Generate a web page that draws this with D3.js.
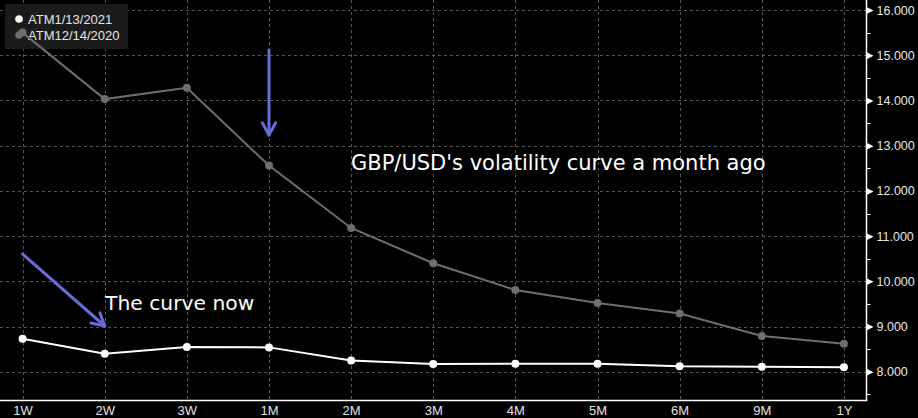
<!DOCTYPE html>
<html>
<head>
<meta charset="utf-8">
<script src="https://cdn.jsdelivr.net/npm/d3@7"></script>
<style>
  html, body { margin: 0; padding: 0; background: #000; }
  svg { display: block; }
</style>
</head>
<body>
<svg id="chart" width="918" height="418"></svg>
<script>
// ---- data ----
const tenors = ["1W","2W","3W","1M","2M","3M","4M","5M","6M","9M","1Y"];
const atmNow = [8.73, 8.40, 8.55, 8.54, 8.25, 8.17, 8.18, 8.18, 8.12, 8.11, 8.10];
const atmMonthAgo = [15.50, 14.03, 14.28, 12.56, 11.18, 10.40, 9.81, 9.52, 9.29, 8.79, 8.62];
const seriesNames = ["ATM1/13/2021", "ATM12/14/2020"];
const yTicks = [8, 9, 10, 11, 12, 13, 14, 15, 16];
const yMinorTicks = [7.5, 8.5, 9.5, 10.5, 11.5, 12.5, 13.5, 14.5, 15.5];
const annotations = ["GBP/USD's volatility curve a month ago", "The curve now"];

// ---- layout ----
const W = 918, H = 418;
const plotRight = 866.5, plotBottom = 400.5;
const svg = d3.select("#chart");
svg.append("rect").attr("width", W).attr("height", H).attr("fill", "#000");

const x = d3.scalePoint().domain(tenors).range([0, plotRight]).padding(0.275);
const y = d3.scaleLinear().domain([8, 16]).range([371.8, 10]);

// grid
const grid = svg.append("g").attr("stroke", "#555").attr("stroke-width", 1)
  .attr("stroke-dasharray", "3,3");
grid.selectAll("line.v").data(tenors).join("line")
  .attr("x1", d => Math.round(x(d)) + 0.5).attr("x2", d => Math.round(x(d)) + 0.5)
  .attr("y1", 0).attr("y2", plotBottom);
grid.selectAll("line.h").data(yTicks).join("line")
  .attr("x1", 0).attr("x2", plotRight)
  .attr("y1", d => Math.round(y(d)) + 0.5).attr("y2", d => Math.round(y(d)) + 0.5);

// y axis (right)
const yAxis = d3.axisRight(y).tickValues(yTicks).tickSize(0).tickPadding(10)
  .tickFormat(d3.format(".3f"));
const ya = svg.append("g").attr("transform", `translate(${plotRight},0)`).call(yAxis);
ya.select(".domain").remove();
ya.selectAll("text").attr("fill", "#e6e6e6")
  .style("font-family", "'Liberation Sans', Arial, sans-serif").style("font-size", "12.5px");
// major tick markers (triangles)
ya.selectAll(".tick").append("path")
  .attr("d", "M0,-3.5 L7,0 L0,3.5 Z").attr("fill", "#fff");
// minor ticks
svg.append("g").selectAll("line").data(yMinorTicks).join("line")
  .attr("x1", plotRight).attr("x2", plotRight + 4)
  .attr("y1", d => Math.round(y(d)) + 0.5).attr("y2", d => Math.round(y(d)) + 0.5)
  .attr("stroke", "#fff").attr("stroke-width", 1);
// axis lines
svg.append("line").attr("x1", plotRight).attr("x2", plotRight).attr("y1", 0).attr("y2", plotBottom)
  .attr("stroke", "#fff").attr("stroke-width", 1.5);

// x axis
const xAxis = d3.axisBottom(x).tickSize(0).tickPadding(5);
const xa = svg.append("g").attr("transform", `translate(0,${plotBottom})`).call(xAxis);
xa.select(".domain").remove();
xa.selectAll("text").attr("fill", "#e0e0e0")
  .style("font-family", "'Liberation Sans Narrow', 'Liberation Sans', sans-serif").style("font-size", "13px");
svg.append("line").attr("x1", 0).attr("x2", plotRight + 0.75).attr("y1", plotBottom).attr("y2", plotBottom)
  .attr("stroke", "#fff").attr("stroke-width", 1.5);

// legend box (behind series)
const legendBox = svg.append("rect").attr("x", 5).attr("y", 4).attr("width", 123).attr("height", 45).attr("fill", "#1b1b1b");

// series
const line = d3.line().x((d, i) => x(tenors[i])).y(d => y(d));
const series = [
  { name: seriesNames[1], values: atmMonthAgo, color: "#6e6e6e" },
  { name: seriesNames[0], values: atmNow, color: "#ffffff" }
];
const legend = svg.append("g");
const legendItems = [
  { name: seriesNames[0], color: "#ffffff" },
  { name: seriesNames[1], color: "#6e6e6e" }
];
legendItems.forEach((it, i) => {
  legend.append("circle").attr("cx", 19).attr("cy", 19 + i * 16).attr("r", 3.8).attr("fill", it.color);
  legend.append("text").attr("x", 28).attr("y", 24 + i * 16).text(it.name)
    .attr("fill", "#e6e6e6").style("font-family", "'Liberation Sans', Arial, sans-serif").style("font-size", "13px");
});
series.forEach(s => {
  svg.append("path").datum(s.values).attr("d", line)
    .attr("fill", "none").attr("stroke", s.color).attr("stroke-width", 2);
  svg.append("g").selectAll("circle").data(s.values).join("circle")
    .attr("cx", (d, i) => x(tenors[i])).attr("cy", d => y(d)).attr("r", 4)
    .attr("fill", s.color);
});
legend.selectAll("text").raise();

// arrows
const arrowColor = "#6a6ad6";
function arrow(x1, y1, x2, y2) {
  const g = svg.append("g").attr("stroke", arrowColor).attr("stroke-width", 3)
    .attr("fill", "none").attr("stroke-linecap", "round").attr("stroke-linejoin", "round");
  g.append("line").attr("x1", x1).attr("y1", y1).attr("x2", x2).attr("y2", y2);
  const a = Math.atan2(y2 - y1, x2 - x1), L = 14, spread = 0.5;
  g.append("path").attr("d",
    `M${x2 - L * Math.cos(a - spread)},${y2 - L * Math.sin(a - spread)} L${x2},${y2} L${x2 - L * Math.cos(a + spread)},${y2 - L * Math.sin(a + spread)}`);
}
arrow(x("1M"), 50, x("1M"), 135);
arrow(x("1W"), 254, x("2W"), 326);

// annotation texts
svg.append("text").attr("x", 351).attr("y", 170).text(annotations[0])
  .attr("fill", "#ffffff").style("font-family", "'DejaVu Sans', sans-serif").style("font-size", "21px");
svg.append("text").attr("x", 105).attr("y", 310).text(annotations[1])
  .attr("fill", "#ffffff").style("font-family", "'DejaVu Sans', sans-serif").style("font-size", "20.3px");
</script>
</body>
</html>
